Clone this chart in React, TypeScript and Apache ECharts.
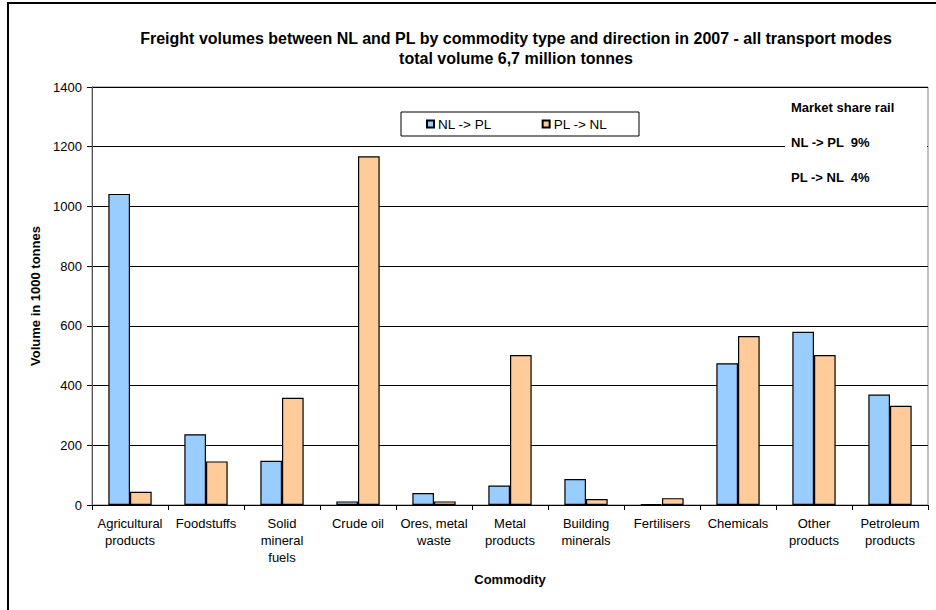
import React, { useEffect, useRef } from "react";
import * as echarts from "echarts";

const categories = [
  "Agricultural\nproducts",
  "Foodstuffs",
  "Solid\nmineral\nfuels",
  "Crude oil",
  "Ores, metal\nwaste",
  "Metal\nproducts",
  "Building\nminerals",
  "Fertilisers",
  "Chemicals",
  "Other\nproducts",
  "Petroleum\nproducts",
];
const nlToPl = [1042, 237, 148, 12, 40, 65, 87, 3, 475, 580, 370];
const plToNl = [44, 146, 359, 1168, 12, 502, 20, 23, 566, 502, 332];
const seriesNames = ["NL -> PL", "PL -> NL"];
const titleLines = [
  "Freight volumes between NL and PL by commodity type and direction in 2007 - all transport modes",
  "total volume 6,7 million tonnes",
];
const marketShareLines = ["Market share rail", "NL -> PL  9%", "PL -> NL  4%"];

const FONT = "'Liberation Sans', Arial, sans-serif";

export default function App() {
  const ref = useRef<HTMLDivElement>(null);
  useEffect(() => {
    if (!ref.current) return;
    const chart = echarts.init(ref.current, undefined, { renderer: "svg" });
    chart.setOption({
      animation: false,
      backgroundColor: "#ffffff",
      textStyle: { fontFamily: FONT },
      title: {
        text: titleLines.join("\n"),
        left: 516,
        top: 28,
        padding: 0,
        textAlign: "center",
        textStyle: {
          fontFamily: FONT,
          fontSize: 16,
          fontWeight: "bold",
          color: "#000",
          lineHeight: 20,
        },
      },
      legend: {
        data: seriesNames,
        left: 426,
        top: 117,
        padding: 0,
        itemWidth: 7,
        itemHeight: 7,
        itemGap: 50,
        icon: "rect",
        z: 10,
        textStyle: { fontFamily: FONT, fontSize: 13.5, color: "#000", padding: [0, 0, 0, -1] },
      },
      grid: {
        left: 92,
        right: 8,
        top: 87,
        bottom: 105,
        show: true,
        borderColor: "#808080",
        borderWidth: 1,
        backgroundColor: "transparent",
      },
      xAxis: {
        type: "category",
        data: categories,
        name: "Commodity",
        nameLocation: "middle",
        nameGap: 68,
        nameTextStyle: { fontFamily: FONT, fontSize: 13, fontWeight: "bold", color: "#000" },
        axisLine: { lineStyle: { color: "#000", width: 1 } },
        axisTick: { show: true, length: 5, lineStyle: { color: "#000" } },
        axisLabel: {
          interval: 0,
          margin: 10,
          fontFamily: FONT,
          fontSize: 13,
          color: "#000",
          lineHeight: 17,
        },
      },
      yAxis: {
        type: "value",
        min: 0,
        max: 1400,
        interval: 200,
        name: "Volume in 1000 tonnes",
        nameLocation: "middle",
        nameRotate: 90,
        nameGap: 44,
        nameTextStyle: { fontFamily: FONT, fontSize: 13, fontWeight: "bold", color: "#000" },
        axisLine: { show: true, lineStyle: { color: "#555", width: 1 } },
        axisTick: { show: true, length: 5, lineStyle: { color: "#000" } },
        axisLabel: {
          margin: 10,
          fontFamily: FONT,
          fontSize: 13,
          color: "#000",
          formatter: (v: number) => String(v),
        },
        splitLine: { show: true, lineStyle: { color: "#000", width: 1 } },
      },
      series: [
        {
          name: seriesNames[0],
          type: "bar",
          data: nlToPl,
          barGap: "0%",
          barCategoryGap: "43%",
          itemStyle: { color: "#99CCFF", borderColor: "#000", borderWidth: 1.2 },
        },
        {
          name: seriesNames[1],
          type: "bar",
          data: plToNl,
          barGap: "0%",
          barCategoryGap: "43%",
          itemStyle: { color: "#FFCC99", borderColor: "#000", borderWidth: 1.2 },
        },
      ],
      graphic: [
        {
          type: "rect",
          z: 100,
          silent: true,
          shape: { x: 8, y: 3, width: 940, height: 620 },
          style: { fill: "none", stroke: "#000", lineWidth: 2 },
        },
        {
          type: "rect",
          z: 3,
          silent: true,
          shape: { x: 401, y: 112, width: 238, height: 24 },
          style: { fill: "#fff", stroke: "#000", lineWidth: 1 },
        },
        {
          type: "rect",
          z: 3,
          silent: true,
          shape: { x: 785, y: 92, width: 142, height: 100 },
          style: { fill: "#fff", stroke: "none" },
        },
        ...marketShareLines.map((t, i) => ({
          type: "text",
          z: 10,
          silent: true,
          x: 791,
          y: [107, 142, 177][i],
          style: {
            text: t,
            fill: "#000",
            font: `bold 13px ${FONT}`,
            textVerticalAlign: "middle",
            verticalAlign: "middle",
          },
        })),
      ],
    });
    return () => chart.dispose();
  }, []);
  return (
    <div
      ref={ref}
      style={{ position: "fixed", left: 0, top: 0, width: 936, height: 610 }}
    />
  );
}
